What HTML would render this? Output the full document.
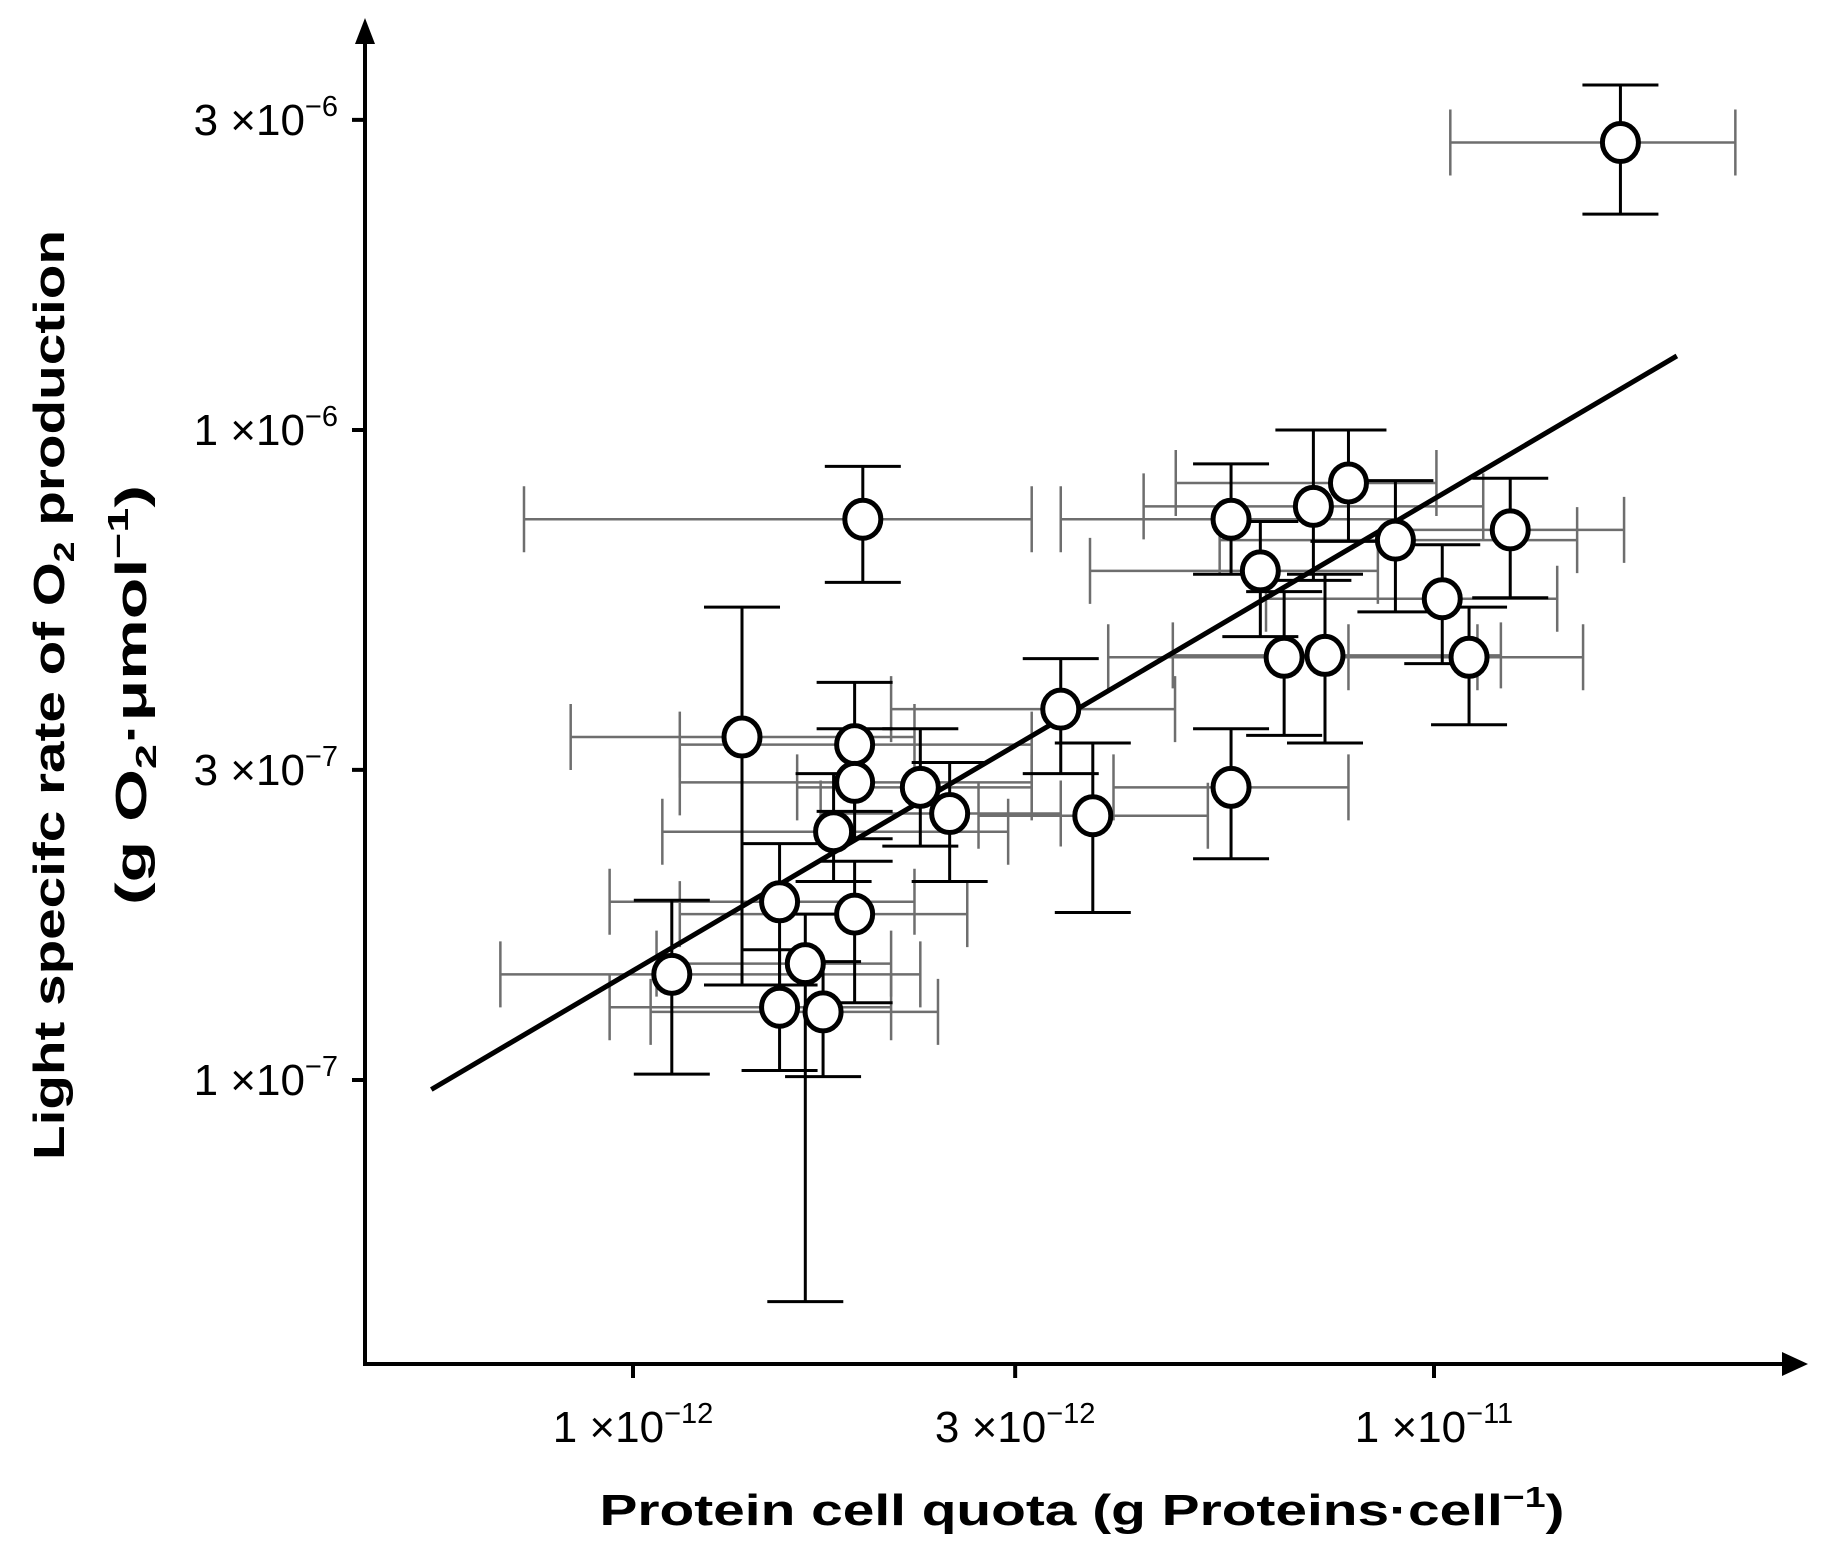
<!DOCTYPE html>
<html><head><meta charset="utf-8"><style>
html,body{margin:0;padding:0;background:#fff;}
svg{display:block;font-family:"Liberation Sans",Arial,sans-serif;}
</style></head><body>
<svg id="chart" width="1839" height="1563" viewBox="0 0 1839 1563" xmlns="http://www.w3.org/2000/svg">
<g id="errs-x"></g>
<g id="errs-y"></g>
<g id="fit"></g>
<g id="pts"></g>
<g>
<line x1="365" y1="40" x2="365" y2="1366" stroke="#000" stroke-width="4"/>
<polygon points="365,18 355,44 375,44" fill="#000"/>
</g>
<g>
<line x1="363" y1="1364" x2="1785" y2="1364" stroke="#000" stroke-width="4"/>
<polygon points="1808,1364 1782,1352 1782,1376" fill="#000"/>
</g>
<g id="yticks"></g>
<g id="xticks"></g>
<text x="1082" y="1525" text-anchor="middle" font-size="44" font-weight="bold" textLength="965" lengthAdjust="spacingAndGlyphs">Protein cell quota (g Proteins·cell<tspan dy="-18" font-size="29">−1</tspan><tspan dy="18">)</tspan></text>
<text transform="translate(64,695) rotate(-90)" text-anchor="middle" font-size="44" font-weight="bold" textLength="930" lengthAdjust="spacingAndGlyphs">Light specifc rate of O<tspan dy="10" font-size="29">2</tspan><tspan dy="-10"> production</tspan></text>
<text transform="translate(146,695) rotate(-90)" text-anchor="middle" font-size="44" font-weight="bold" textLength="420" lengthAdjust="spacingAndGlyphs">(g O<tspan dy="10" font-size="29">2</tspan><tspan dy="-10">·μmol</tspan><tspan dy="-18" font-size="29">−1</tspan><tspan dy="18">)</tspan></text>
</svg>
<script>
// x in units of 1e-12 g protein/cell ; y in units of 1e-7 g O2/umol
const xVals = [17.09,1.936,5.58,7.07,7.82,8.95,12.45,6.07,10.24,11.06,6.50,7.31,3.42,3.75,5.58,1.368,1.891,1.891,2.284,2.485,1.780,1.524,1.891,1.118,1.641,1.524,1.727];
const xLow  = [10.48,0.731,3.42,4.34,4.76,5.40,8.95,3.72,6.17,7.82,3.92,4.72,2.10,2.70,3.98,0.836,1.144,1.144,1.603,1.715,1.088,0.935,1.144,0.683,1.070,0.935,1.052];
const xHigh = [23.78,3.146,8.95,11.52,10.07,15.09,17.27,8.51,14.25,15.35,11.33,12.12,4.75,5.22,7.82,2.246,3.146,3.146,3.146,3.42,2.94,2.246,2.614,2.284,2.10,2.10,2.403];
const yVals = [27.69,7.29,7.29,7.63,8.29,6.77,7.02,6.07,5.50,4.47,4.47,4.50,3.72,2.55,2.82,3.37,3.28,2.87,2.82,2.57,2.41,1.88,1.80,1.454,1.510,1.294,1.273];
const yHigh = [33.94,8.79,8.87,10.0,10.0,8.36,8.43,7.23,6.66,5.34,5.64,6.00,4.45,3.30,3.47,5.34,4.09,3.47,3.47,3.08,2.96,2.31,2.17,1.89,1.80,1.586,1.521];
const yLow  = [21.48,5.83,6.00,5.87,6.74,5.25,5.52,4.81,4.37,3.52,3.39,3.30,2.96,1.81,2.19,1.40,2.59,2.35,2.29,2.02,2.02,1.40,1.315,1.021,0.456,1.034,1.012];
const fitX = [0.56,20.1];
const fitY = [0.967,13.0];
const xTickVals = [1,3,10];
const xTickExp = ["−12","−12","−11"];
const xTickMant = ["1","3","1"];
const yTickVals = [30,10,3,1];
const yTickExp = ["−6","−6","−7","−7"];
const yTickMant = ["3","1","3","1"];

const NS="http://www.w3.org/2000/svg";
function xs(v){return 633+801*Math.log10(v);}
function ys(v){return 1080-650*Math.log10(v);}
function mk(tag,attrs,parent){const e=document.createElementNS(NS,tag);for(const k in attrs)e.setAttribute(k,attrs[k]);parent.appendChild(e);return e;}

const gx=document.getElementById('errs-x'),gy=document.getElementById('errs-y'),gp=document.getElementById('pts'),gf=document.getElementById('fit');
for(let i=0;i<xVals.length;i++){
  const cx=xs(xVals[i]),cy=ys(yVals[i]),x1=xs(xLow[i]),x2=xs(xHigh[i]),y1=ys(yHigh[i]),y2=ys(yLow[i]);
  const hx=mk('path',{d:`M${x1},${cy}H${x2}M${x1},${cy-33}V${cy+33}M${x2},${cy-33}V${cy+33}`,stroke:'#6e6e6e','stroke-width':2.5,fill:'none'},gx);
  
  
  const vy=mk('path',{d:`M${cx},${y1}V${y2}M${cx-38},${y1}H${cx+38}M${cx-38},${y2}H${cx+38}`,stroke:'#000','stroke-width':3,fill:'none'},gy);
  
  
  const c=mk('ellipse',{cx:cx,cy:cy,rx:18,ry:19,fill:'#fff',stroke:'#000','stroke-width':5},gp);
  
  
}
const fl=mk('line',{x1:xs(fitX[0]),y1:ys(fitY[0]),x2:xs(fitX[1]),y2:ys(fitY[1]),stroke:'#000','stroke-width':5},gf);



const gyt=document.getElementById('yticks');
for(let i=0;i<yTickVals.length;i++){
  const y=ys(yTickVals[i]);
  const t=mk('line',{x1:352,y1:y,x2:365,y2:y,stroke:'#000','stroke-width':4},gyt);
  
  
  const tx=mk('text',{x:338,y:y+15,'text-anchor':'end','font-size':44},gyt);
  
  
  tx.innerHTML=`${yTickMant[i]} ×10<tspan dy="-19" font-size="29">${yTickExp[i]}</tspan>`;
}
const gxt=document.getElementById('xticks');
for(let i=0;i<xTickVals.length;i++){
  const x=xs(xTickVals[i]);
  const t=mk('line',{x1:x,y1:1364,x2:x,y2:1378,stroke:'#000','stroke-width':4},gxt);
  
  
  const tx=mk('text',{x:x,y:1442,'text-anchor':'middle','font-size':44},gxt);
  
  
  tx.innerHTML=`${xTickMant[i]} ×10<tspan dy="-19" font-size="29">${xTickExp[i]}</tspan>`;
}
</script>
</body></html>
